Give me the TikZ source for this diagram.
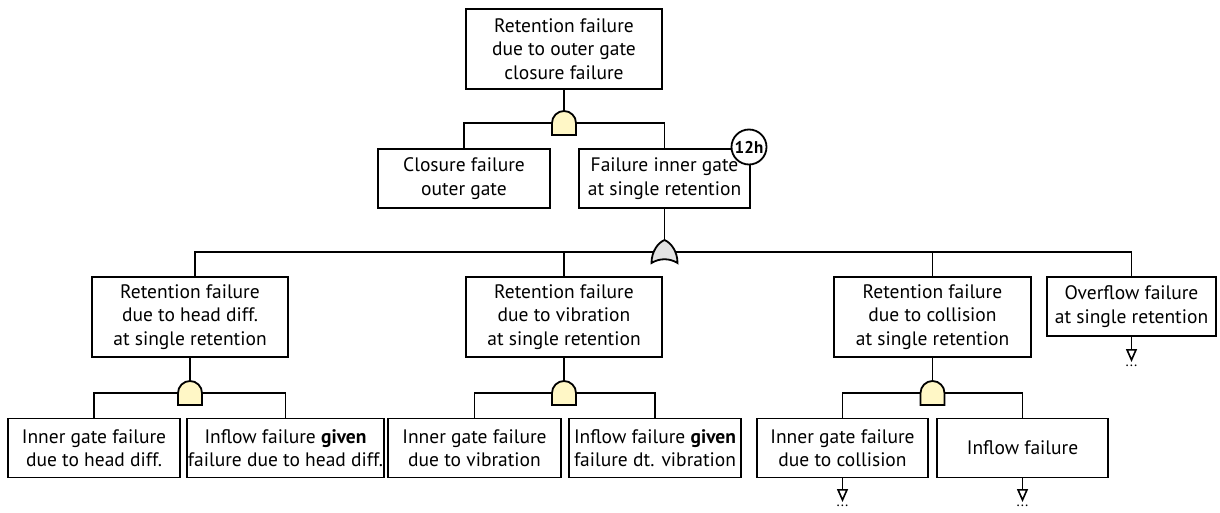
\documentclass[tikz,border=0pt]{standalone}
\usepackage{fontspec}
\setmainfont{PT Sans}
\usepackage{tikz}
\usetikzlibrary{arrows.meta}

\definecolor{andfill}{RGB}{255,247,198}
\definecolor{orfill}{RGB}{226,226,226}

\tikzset{
  event/.style={draw, line width=1.8pt, align=center, inner sep=0pt,
    font=\fontsize{19.5}{23.5}\selectfont},
  wire/.style={line width=1.6pt},
  more/.style={line width=1.6pt, -{Triangle[open, length=13pt, width=11pt]}},
  dots/.style={anchor=north, inner sep=3pt, font=\fontsize{15}{15}\selectfont},
  andgate/.pic={
    \draw[line width=1.8pt, fill=andfill] (-12,0) -- (-12,-12) -- (12,-12) -- (12,0)
      arc (0:180:12pt) -- cycle;
  },
  orgate/.pic={
    \draw[line width=1.8pt, fill=orfill] (-13,-11) .. controls (-13,0) and (-7,9) .. (0,12)
      .. controls (7,9) and (13,0) .. (13,-11)
      .. controls (5,-6) and (-5,-6) .. (-13,-11) -- cycle;
  }
}

\begin{document}
\begin{tikzpicture}[x=1pt, y=1pt]
\useasboundingbox (0,0) rectangle (1220,-513);

% top event and its two inputs
\node [event, minimum width=196, minimum height=80] (top) at (564,-49)
  {Retention failure\\due to outer gate\\closure failure};
\node [event, minimum width=172, minimum height=59] (closure) at (464,-178.5)
  {Closure failure\\outer gate};
\node [event, minimum width=171, minimum height=59] (inner) at (664.5,-178.5)
  {Failure inner gate\\at single retention};

% second level
\node [event, minimum width=196, minimum height=80] (head) at (190,-317)
  {Retention failure\\due to head diff.\\at single retention};
\node [event, minimum width=196, minimum height=80] (vib) at (564,-317)
  {Retention failure\\due to vibration\\at single retention};
\node [event, minimum width=197, minimum height=80] (coll) at (932.5,-317)
  {Retention failure\\due to collision\\at single retention};
\node [event, minimum width=169, minimum height=59] (over) at (1131.5,-306.5)
  {Overflow failure\\at single retention};

% third level
\node [event, minimum width=172, minimum height=59] (hd1) at (94,-448)
  {Inner gate failure\\due to head diff.};
\node [event, minimum width=197, minimum height=59] (hd2) at (285.5,-448)
  {Inflow failure \textbf{given}\\failure due to head diff.};
\node [event, minimum width=173, minimum height=59] (vb1) at (474.5,-448)
  {Inner gate failure\\due to vibration};
\node [event, minimum width=172, minimum height=59] (vb2) at (655,-448)
  {Inflow failure \textbf{given}\\failure dt. vibration};
\node [event, minimum width=171, minimum height=59] (cl1) at (842.5,-448)
  {Inner gate failure\\due to collision};
\node [event, minimum width=171, minimum height=59] (cl2) at (1022.5,-448)
  {Inflow failure};

% gates
\coordinate (g0) at (564,-123);
\coordinate (g1) at (664.5,-252);
\coordinate (g2) at (190,-393);
\coordinate (g3) at (564,-393);
\coordinate (g4) at (932.5,-393);

% not developed further
\node [dots] (d1) at (1131.5,-362) {...};
\node [dots] (d2) at (842.5,-502) {...};
\node [dots] (d3) at (1022.5,-502) {...};

\draw [wire] (top) -- (g0);
\draw [wire] (g0) -| (closure);
\draw [wire] (g0) -| (inner);

\draw [wire] (inner) -- (g1);
\draw [wire] (g1) -| ([xshift=5pt]head.north);
\draw [wire] (g1) -| (vib);
\draw [wire] (g1) -| (coll);
\draw [wire] (g1) -| (over);

\draw [wire] (head) -- (g2);
\draw [wire] (g2) -| (hd1);
\draw [wire] (g2) -| (hd2);
\draw [wire] (vib) -- (g3);
\draw [wire] (g3) -| (vb1);
\draw [wire] (g3) -| (vb2);
\draw [wire] (coll) -- (g4);
\draw [wire] (g4) -| (cl1);
\draw [wire] (g4) -| (cl2);

\draw [more] (over) -- (d1);
\draw [more] (cl1) -- (d2);
\draw [more] (cl2) -- (d3);

\pic at (g0) {andgate};
\pic at (g1) {orgate};
\pic at (g2) {andgate};
\pic at (g3) {andgate};
\pic at (g4) {andgate};

% time window
\node [draw, circle, line width=1.8pt, fill=white, minimum size=35pt, inner sep=0pt,
  font=\bfseries\fontsize{17}{17}\selectfont] (win) at (749,-147) {12h};
\end{tikzpicture}
\end{document}
